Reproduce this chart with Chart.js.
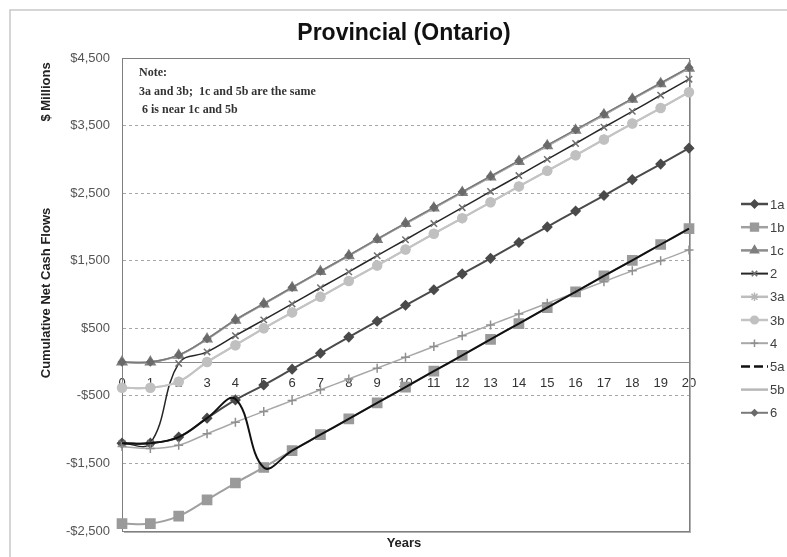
<!DOCTYPE html>
<html>
<head>
<meta charset="utf-8">
<title>Provincial (Ontario)</title>
<script src="https://cdn.jsdelivr.net/npm/chart.js@4.4.1/dist/chart.umd.min.js"></script>
<style>
  html, body { margin: 0; padding: 0; background: #fff; }
  .chartWrapper { width: 787px; height: 557px; position: relative; }
</style>
</head>
<body>
<div class="chartWrapper"><canvas id="ontarioChart"></canvas></div>
<script>
// 연도 (x축)
const years = ['0', '1', '2', '3', '4', '5', '6', '7', '8', '9', '10',
  '11', '12', '13', '14', '15', '16', '17', '18', '19', '20'];

// 시나리오별 누적 순현금흐름 ($ Millions)
const s1a = [-1200, -1200, -1110, -830, -560, -340, -105, 130, 370, 605, 840,
  1070, 1305, 1535, 1770, 2000, 2235, 2465, 2700, 2930, 3166];
const s1b = [-2390, -2390, -2280, -2040, -1790, -1560, -1310, -1075, -840, -605, -370,
  -135, 100, 335, 570, 805, 1040, 1275, 1505, 1740, 1975];
const s1c = [0, 0, 100, 340, 620, 860, 1100, 1340, 1575, 1815, 2050,
  2280, 2510, 2740, 2970, 3200, 3430, 3660, 3890, 4120, 4349];
const s2 = [-1200, -1200, -20, 150, 390, 625, 860, 1100, 1335, 1575, 1810,
  2050, 2285, 2525, 2760, 3000, 3235, 3475, 3710, 3950, 4186];
const s3a = [-380, -380, -290, 0, 250, 500, 735, 965, 1200, 1430, 1665,
  1900, 2130, 2365, 2600, 2830, 3060, 3295, 3530, 3760, 3994];
const s3b = [-380, -380, -290, 0, 250, 500, 735, 965, 1200, 1430, 1665,
  1900, 2130, 2365, 2600, 2830, 3060, 3295, 3530, 3760, 3994];
const s4 = [-1250, -1280, -1230, -1060, -890, -730, -570, -410, -250, -90, 70,
  230, 390, 550, 710, 870, 1030, 1190, 1350, 1500, 1660];
const s5a = [-1200, -1200, -1110, -830, -545, -1560, -1310, -1075, -840, -605, -370,
  -135, 100, 335, 570, 805, 1040, 1275, 1505, 1740, 1975];
const s5b = [0, 0, 100, 340, 620, 860, 1100, 1340, 1575, 1815, 2050,
  2280, 2510, 2740, 2970, 3200, 3430, 3660, 3890, 4120, 4349];
const s6 = [0, 0, 105, 345, 625, 865, 1105, 1345, 1580, 1820, 2055,
  2290, 2520, 2750, 2980, 3210, 3440, 3670, 3900, 4130, 4360];

const seriesNames = ['1a', '1b', '1c', '2', '3a', '3b', '4', '5a', '5b', '6'];
const seriesValues = [s1a, s1b, s1c, s2, s3a, s3b, s4, s5a, s5b, s6];

// y축 눈금
const yTicks = [-2500, -1500, -500, 500, 1500, 2500, 3500, 4500];

// 선/마커 스타일 (legendDash 는 범례에만 사용)
const styles = [
  { line: '#4a4a4a', mark: '#4a4a4a', point: 'rectRot', r: 4.5, w: 2 },
  { line: '#a0a0a0', mark: '#9a9a9a', point: 'rect', r: 6.5, w: 2 },
  { line: '#8c8c8c', mark: '#7f7f7f', point: 'triangle', r: 5.5, w: 2 },
  { line: '#262626', mark: '#707070', point: 'crossRot', r: 4.5, w: 1.5 },
  { line: '#bdbdbd', mark: '#b5b5b5', point: 'star', r: 5, w: 2 },
  { line: '#c4c4c4', mark: '#c0c0c0', point: 'circle', r: 4.5, w: 2 },
  { line: '#a8a8a8', mark: '#8f8f8f', point: 'cross', r: 4.5, w: 1.5 },
  { line: '#111111', mark: '#111111', point: false, r: 0, w: 2, legendDash: [9, 4] },
  { line: '#b8b8b8', mark: '#b8b8b8', point: false, r: 0, w: 2 },
  { line: '#7a7a7a', mark: '#6a6a6a', point: 'rectRot', r: 3.5, w: 1.5 },
];

const PLOT = { left: 122, right: 689, top: 58, bottom: 531 };
const Y_AXIS_W = 60;

const datasets = seriesNames.map((name, i) => ({
  label: name,
  data: seriesValues[i],
  borderColor: styles[i].line,
  borderWidth: styles[i].w,
  backgroundColor: styles[i].mark,
  pointStyle: styles[i].point,
  pointRadius: styles[i].r,
  pointBackgroundColor: styles[i].mark,
  pointBorderColor: styles[i].mark,
  pointBorderWidth: 1.5,
  tension: 0.4,
  fill: false,
  order: seriesNames.length - i,
}));

// 차트 테두리, 제목, 범례 등
const decorations = {
  id: 'decorations',
  beforeDraw(chart) {
    const ctx = chart.ctx;
    ctx.save();
    ctx.fillStyle = '#fff';
    ctx.fillRect(0, 0, chart.width, chart.height);
    ctx.strokeStyle = '#c8c8c8';
    ctx.lineWidth = 1.5;
    ctx.beginPath();
    ctx.moveTo(10, chart.height);
    ctx.lineTo(10, 10);
    ctx.lineTo(chart.width, 10);
    ctx.stroke();
    ctx.restore();
  },
  beforeDatasetsDraw(chart) {
    const { ctx, chartArea: a } = chart;
    ctx.save();
    ctx.fillStyle = '#b0b0b0';
    ctx.fillRect(a.left + 2, a.bottom, a.right - a.left, 2);
    ctx.fillRect(a.right, a.top + 2, 2, a.bottom - a.top);
    ctx.strokeStyle = '#7f7f7f';
    ctx.lineWidth = 1;
    ctx.strokeRect(Math.round(a.left) + 0.5, Math.round(a.top) + 0.5,
      Math.round(a.right - a.left), Math.round(a.bottom - a.top));
    ctx.restore();
  },
  afterDraw(chart) {
    const ctx = chart.ctx;
    ctx.save();
    ctx.fillStyle = '#111';
    ctx.textAlign = 'center';
    ctx.textBaseline = 'middle';
    ctx.font = 'bold 23px "Liberation Sans", Arial, sans-serif';
    ctx.fillText('Provincial (Ontario)', 404, 34);

    ctx.font = 'bold 13px "Liberation Sans", Arial, sans-serif';
    ctx.fillStyle = '#222';
    ctx.fillText('Years', 404, 543);

    ctx.save();
    ctx.translate(46, 293);
    ctx.rotate(-Math.PI / 2);
    ctx.fillText('Cumulative Net Cash Flows', 0, 0);
    ctx.restore();
    ctx.save();
    ctx.translate(46, 92);
    ctx.rotate(-Math.PI / 2);
    ctx.fillText('$ Millions', 0, 0);
    ctx.restore();

    // 메모
    ctx.textAlign = 'left';
    ctx.fillStyle = '#333';
    ctx.font = 'bold 12px "Liberation Serif", "DejaVu Serif", serif';
    ctx.fillText('Note:', 139, 73);
    ctx.fillText('3a and 3b;  1c and 5b are the same', 139, 92);
    ctx.fillText(' 6 is near 1c and 5b', 139, 110);

    // 범례
    ctx.font = '13px "Liberation Sans", Arial, sans-serif';
    chart.data.datasets.forEach((ds, i) => {
      const st = styles[i];
      const y = 204 + i * 23.2;
      ctx.strokeStyle = st.line;
      ctx.lineWidth = st.w + 0.5;
      ctx.setLineDash(st.legendDash || []);
      ctx.beginPath();
      ctx.moveTo(741, y);
      ctx.lineTo(768, y);
      ctx.stroke();
      ctx.setLineDash([]);
      if (st.point) {
        ctx.fillStyle = st.mark;
        ctx.strokeStyle = st.mark;
        ctx.lineWidth = 1.5;
        Chart.helpers.drawPoint(ctx, { pointStyle: st.point, radius: st.r * 0.85, rotation: 0, borderWidth: 1.5 }, 754.5, y);
      }
      ctx.fillStyle = '#404040';
      ctx.fillText(ds.label, 770, y + 1);
    });
    ctx.restore();
  },
};

const config = {
  type: 'line',
  data: { labels: years, datasets },
  options: {
    responsive: true,
    maintainAspectRatio: false,
    animation: false,
    layout: {
      padding: {
        left: PLOT.left - Y_AXIS_W,
        right: 787 - PLOT.right,
        top: PLOT.top,
        bottom: 557 - PLOT.bottom,
      },
    },
    plugins: {
      legend: { display: false },
      title: { display: false },
      tooltip: { enabled: false },
    },
    scales: {
      x: {
        position: { y: 0 },
        offset: false,
        afterFit: (scale) => { scale.height = 0; },
        grid: { display: false, drawTicks: false },
        border: { display: true, color: '#8a8a8a', width: 1 },
        ticks: {
          padding: 14,
          maxRotation: 0,
          autoSkip: false,
          color: '#333',
          font: { family: '"Liberation Sans", Arial, sans-serif', size: 13 },
        },
      },
      y: {
        min: -2500,
        max: 4500,
        afterFit: (scale) => { scale.width = Y_AXIS_W; },
        afterBuildTicks: (scale) => { scale.ticks = yTicks.map((v) => ({ value: v })); },
        grid: { color: '#a6a6a6', lineWidth: 1, drawTicks: false },
        border: { display: true, color: '#8a8a8a', dash: [3, 3] },
        ticks: {
          padding: 12,
          color: '#555',
          font: { family: '"Liberation Sans", Arial, sans-serif', size: 13 },
          callback: (v) => (v < 0 ? '-$' : '$') + Math.abs(v).toLocaleString('en-US'),
        },
      },
    },
  },
  plugins: [decorations],
};

new Chart(document.getElementById('ontarioChart'), config);
</script>
</body>
</html>
